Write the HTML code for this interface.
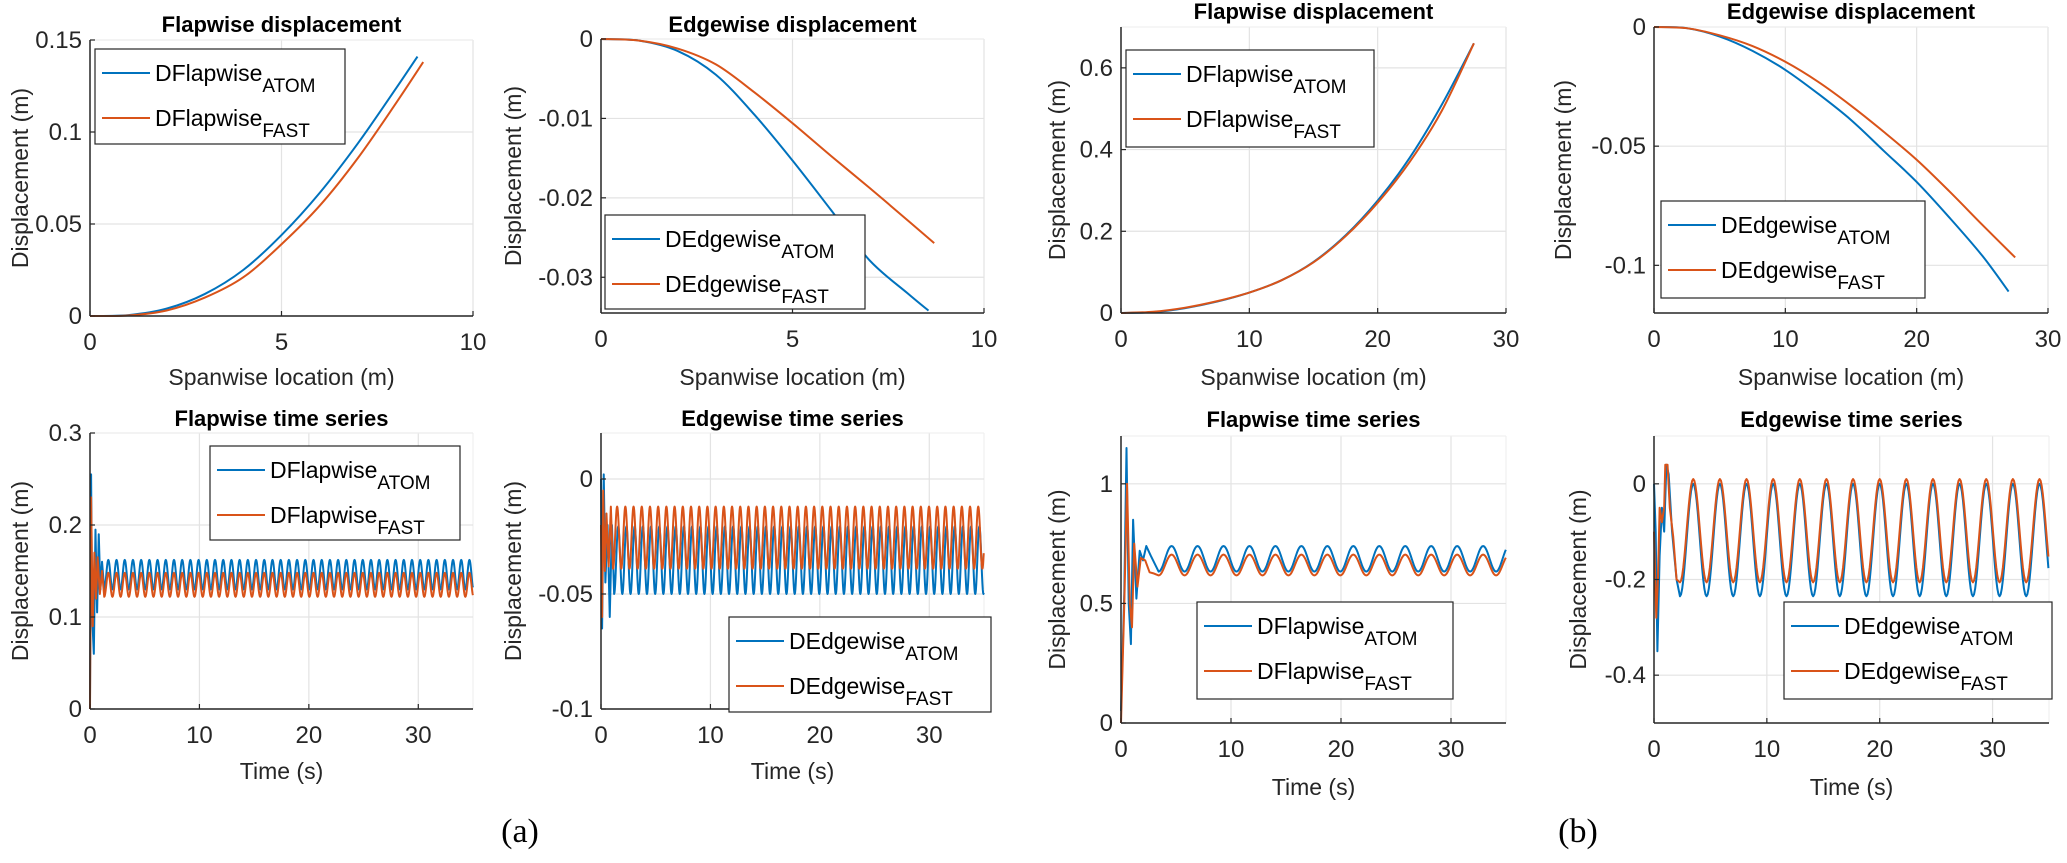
<!DOCTYPE html>
<html><head><meta charset="utf-8">
<style>
html,body{margin:0;padding:0;background:#fff;}
svg{display:block;font-family:"Liberation Sans",Arial,sans-serif;}
</style></head>
<body>
<svg id="fig" width="2067" height="863" viewBox="0 0 2067 863" xmlns="http://www.w3.org/2000/svg"></svg>
<script>
// ---------- data ----------
// Panel 1: flapwise displacement (a)
const p1xAtom = [0,1,2,3,4,5,6,7,8,8.55];
const p1yAtom = [0,0.0005,0.004,0.012,0.025,0.044,0.067,0.094,0.124,0.141];
const p1xFast = [0,1,2,3,4,5,6,7,8,8.7];
const p1yFast = [0,0.0003,0.003,0.010,0.021,0.039,0.060,0.086,0.116,0.138];
// Panel 2: edgewise displacement (a)
const p2xAtom = [0,1,2,3,4,5,6,7,8,8.55];
const p2yAtom = [0,-0.0002,-0.0015,-0.0045,-0.0095,-0.0153,-0.0215,-0.0278,-0.032,-0.0342];
const p2xFast = [0,1,2,3,4,5,6,7,8,8.7];
const p2yFast = [0,-0.0002,-0.0012,-0.0032,-0.0067,-0.0106,-0.0147,-0.0187,-0.0228,-0.0257];
// Panel 3: flapwise displacement (b)
const p3xAtom = [0,2.5,5,7.5,10,12.5,15,17.5,20,22.5,25,27.5];
const p3yAtom = [0,0.002,0.012,0.028,0.05,0.08,0.125,0.19,0.275,0.38,0.51,0.66];
const p3xFast = [0,2.5,5,7.5,10,12.5,15,17.5,20,22.5,25,27.5];
const p3yFast = [0,0.003,0.013,0.029,0.05,0.08,0.124,0.188,0.27,0.37,0.495,0.66];
// Panel 4: edgewise displacement (b)
const p4xAtom = [0,2.5,5,7.5,10,12.5,15,17.5,20,22.5,25,27];
const p4yAtom = [0,-0.0005,-0.004,-0.010,-0.018,-0.028,-0.039,-0.052,-0.065,-0.080,-0.096,-0.111];
const p4xFast = [0,2.5,5,7.5,10,12.5,15,17.5,20,22.5,25,27.5];
const p4yFast = [0,-0.0005,-0.0035,-0.008,-0.0146,-0.023,-0.033,-0.044,-0.0557,-0.069,-0.083,-0.0967];
// Time series: transient samples, then steady oscillation range [min,max], period (s)
const p5tAtom = [0,0.1,0.2,0.35,0.5,0.65,0.8,0.95,1.1,1.3];
const p5vAtom = [0.01,0.255,0.1,0.06,0.195,0.105,0.19,0.13,0.16,0.13];
const p5tFast = [0,0.1,0.25,0.4,0.55,0.7,0.9,1.1,1.3];
const p5vFast = [0.0,0.23,0.09,0.17,0.12,0.165,0.125,0.15,0.122];
const p5rangeAtom = [0.13,0.162];
const p5rangeFast = [0.122,0.148];
const p5period = [0.75];
const p6tAtom = [0,0.1,0.25,0.4,0.6,0.8,1.0,1.2];
const p6vAtom = [0,-0.065,0.002,-0.045,-0.02,-0.06,-0.02,-0.05];
const p6tFast = [0,0.1,0.2,0.35,0.5,0.7,0.9,1.1];
const p6vFast = [-0.02,-0.06,-0.005,-0.04,-0.015,-0.038,-0.012,-0.039];
const p6rangeAtom = [-0.05,-0.0206];
const p6rangeFast = [-0.039,-0.012];
const p6period = [0.75];
const p7tAtom = [0,0.3,0.5,0.7,0.9,1.1,1.4,1.7,2.0,2.3,2.7,3.42];
const p7vAtom = [0.05,0.55,1.15,0.5,0.33,0.85,0.52,0.72,0.68,0.74,0.70,0.633];
const p7tFast = [0,0.3,0.55,0.8,1.0,1.2,1.5,1.8,2.2,2.6,3.0,3.42];
const p7vFast = [0,0.5,1.0,0.5,0.4,0.75,0.57,0.69,0.68,0.63,0.625,0.617];
const p7rangeAtom = [0.633,0.74];
const p7rangeFast = [0.617,0.704];
const p7period = [2.36];
const p8tAtom = [0,0.15,0.3,0.5,0.7,0.9,1.1,1.3,1.6,2.0,2.3];
const p8vAtom = [0,-0.1,-0.35,-0.15,-0.05,-0.1,0.04,0.02,-0.1,-0.2,-0.235];
const p8tFast = [0,0.2,0.35,0.5,0.7,0.9,1.0,1.2,1.4,1.7,2.0,2.3];
const p8vFast = [-0.1,-0.28,-0.2,-0.05,-0.08,-0.05,0.04,0.04,-0.05,-0.11,-0.2,-0.206];
const p8rangeAtom = [-0.235,0.0];
const p8rangeFast = [-0.206,0.01];
const p8period = [2.36];
const tEnd = [35];
// tick labels
const ticksX10 = [0,5,10];
const ticksX30 = [0,10,20,30];
const ticksY1 = [0,0.05,0.1,0.15];
const ticksY2 = [0,-0.01,-0.02,-0.03];
const ticksY3 = [0,0.2,0.4,0.6];
const ticksY4 = [0,-0.05,-0.1];
const ticksY5 = [0,0.1,0.2,0.3];
const ticksY6 = [0,-0.05,-0.1];
const ticksY7 = [0,0.5,1];
const ticksY8 = [0,-0.2,-0.4];

const BLUE = '#0072bd', RED = '#d95319';
const svg = document.getElementById('fig');
const NS = 'http://www.w3.org/2000/svg';
function mk(tag, attrs, parent){
  const e = document.createElementNS(NS, tag);
  for (const k in attrs) e.setAttribute(k, attrs[k]);
  (parent||svg).appendChild(e);
  return e;
}
function steady(ts, vs, range, period){
  const t = ts.slice(), v = vs.slice();
  const t0 = ts[ts.length-1];
  const mid = (range[0]+range[1])/2, amp = (range[1]-range[0])/2;
  const step = period/24;
  for (let tt = t0+step; tt <= tEnd[0]+1e-9; tt += step){
    t.push(tt); v.push(mid - amp*Math.cos(2*Math.PI*(tt-t0)/period));
  }
  return [t, v];
}
function smoothPath(P){
  let d = 'M' + P[0][0].toFixed(2) + ' ' + P[0][1].toFixed(2);
  for (let i = 0; i < P.length-1; i++){
    const p0 = P[Math.max(0,i-1)], p1 = P[i], p2 = P[i+1], p3 = P[Math.min(P.length-1,i+2)];
    const c1x = p1[0] + (p2[0]-p0[0])/6, c1y = p1[1] + (p2[1]-p0[1])/6;
    const c2x = p2[0] - (p3[0]-p1[0])/6, c2y = p2[1] - (p3[1]-p1[1])/6;
    d += 'C' + c1x.toFixed(2)+' '+c1y.toFixed(2)+' '+c2x.toFixed(2)+' '+c2y.toFixed(2)+' '+p2[0].toFixed(2)+' '+p2[1].toFixed(2);
  }
  return d;
}

function panel(cfg){
  const g = mk('g', {});
  
  
  const X = v => cfg.L + (v - cfg.xmin)/(cfg.xmax - cfg.xmin)*(cfg.R - cfg.L);
  const Y = v => cfg.B - (v - cfg.ymin)/(cfg.ymax - cfg.ymin)*(cfg.B - cfg.T);
  cfg.xt.forEach(v => { if (v !== cfg.xmin) { const l = mk('line', {x1:X(v),x2:X(v),y1:cfg.T,y2:cfg.B,stroke:'#e3e3e3','stroke-width':1.2}, g);   }});
  if (cfg.xmax > cfg.xt[cfg.xt.length-1]) { mk('line', {x1:cfg.R,x2:cfg.R,y1:cfg.T,y2:cfg.B,stroke:'#eeeeee','stroke-width':1}, g); }
  cfg.yt.forEach(v => { const l = mk('line', {x1:cfg.L,x2:cfg.R,y1:Y(v),y2:Y(v),stroke:'#e3e3e3','stroke-width':1.2}, g);   });
  mk('line', {x1:cfg.L,x2:cfg.R,y1:cfg.T,y2:cfg.T,stroke:'#eeeeee','stroke-width':1}, g);
  cfg.series.forEach(s => {
    const P = s.x.map((xv,i) => [X(xv), Y(s.y[i])]);
    const d = cfg.smooth ? smoothPath(P) : P.map((p,i) => (i?'L':'M') + p[0].toFixed(2) + ' ' + p[1].toFixed(2)).join('');
    const p = mk('path', {d:d, fill:'none', stroke:s.color, 'stroke-width':2, 'stroke-linejoin':'round'}, g);
    
    
  });
  const ax = mk('line', {x1:cfg.L,x2:cfg.L,y1:cfg.T,y2:cfg.B,stroke:'#262626','stroke-width':1.5}, g);
  
  
  const bx = mk('line', {x1:cfg.L,x2:cfg.R,y1:cfg.B,y2:cfg.B,stroke:'#262626','stroke-width':1.5}, g);
  
  
  cfg.xt.forEach(v => {
    mk('line', {x1:X(v),x2:X(v),y1:cfg.B,y2:cfg.B-5,stroke:'#262626','stroke-width':1.2}, g);
    const t = mk('text', {x:X(v), y:cfg.B+34, 'font-size':24, 'text-anchor':'middle', fill:'#262626'}, g);
    t.textContent = String(v);
    
    
  });
  cfg.yt.forEach(v => {
    mk('line', {x1:cfg.L,x2:cfg.L+5,y1:Y(v),y2:Y(v),stroke:'#262626','stroke-width':1.2}, g);
    const t = mk('text', {x:cfg.L-8, y:Y(v)+8, 'font-size':24, 'text-anchor':'end', fill:'#262626'}, g);
    t.textContent = String(v);
    
    
  });
  const tt = mk('text', {x:(cfg.L+cfg.R)/2, y:cfg.titleY, 'font-size':22, 'font-weight':'bold', 'text-anchor':'middle', fill:'#000'}, g);
  tt.textContent = cfg.title;
  
  
  const xl = mk('text', {x:(cfg.L+cfg.R)/2, y:cfg.xlabY, 'font-size':23, 'text-anchor':'middle', fill:'#262626'}, g);
  xl.textContent = cfg.xlabel;
  
  
  const yl = mk('text', {x:0, y:0, 'font-size':23, 'text-anchor':'middle', fill:'#262626', transform:`translate(${cfg.ylabX},${(cfg.T+cfg.B)/2}) rotate(-90)`}, g);
  yl.textContent = 'Displacement (m)';
  
  
  const [lx, ly, lw, lh] = cfg.leg;
  const lg = mk('g', {}, g);
  
  
  mk('rect', {x:lx, y:ly, width:lw, height:lh, fill:'#fff', stroke:'#262626', 'stroke-width':1.2}, lg);
  cfg.series.forEach((s,i) => {
    const yy = ly + 24 + i*45;
    const ln = mk('line', {x1:lx+7, x2:lx+55, y1:yy, y2:yy, stroke:s.color, 'stroke-width':2}, lg);
    
    
    const t = mk('text', {x:lx+60, y:yy+8, 'font-size':23, fill:'#000'}, lg);
    
    
    t.appendChild(document.createTextNode(cfg.legBase));
    const sub = document.createElementNS(NS,'tspan');
    sub.setAttribute('dy', 11);
    sub.setAttribute('font-size', 19);
    sub.textContent = s.label;
    t.appendChild(sub);
  });
}

function ts(t, v, r, p){ return steady(t, v, r, p[0]); }
const s5a = ts(p5tAtom,p5vAtom,p5rangeAtom,p5period), s5f = ts(p5tFast,p5vFast,p5rangeFast,p5period);
const s6a = ts(p6tAtom,p6vAtom,p6rangeAtom,p6period), s6f = ts(p6tFast,p6vFast,p6rangeFast,p6period);
const s7a = ts(p7tAtom,p7vAtom,p7rangeAtom,p7period), s7f = ts(p7tFast,p7vFast,p7rangeFast,p7period);
const s8a = ts(p8tAtom,p8vAtom,p8rangeAtom,p8period), s8f = ts(p8tFast,p8vFast,p8rangeFast,p8period);

const SP = 'Spanwise location (m)', TM = 'Time (s)';
panel({name:'panel-a-flapwise-displacement', smooth:true, L:90,R:473,T:40,B:316, xmin:0,xmax:10,ymin:0,ymax:0.15, xt:ticksX10, yt:ticksY1,
  title:'Flapwise displacement', titleY:32, xlabel:SP, xlabY:385, ylabX:28, leg:[95,49,250,95], legBase:'DFlapwise',
  series:[{x:p1xAtom,y:p1yAtom,color:BLUE,label:'ATOM',name:'atom-line'},{x:p1xFast,y:p1yFast,color:RED,label:'FAST',name:'fast-line'}]});
panel({name:'panel-a-edgewise-displacement', smooth:true, L:601,R:984,T:39,B:313, xmin:0,xmax:10,ymin:-0.0345,ymax:0, xt:ticksX10, yt:ticksY2,
  title:'Edgewise displacement', titleY:32, xlabel:SP, xlabY:385, ylabX:521, leg:[605,215,260,94], legBase:'DEdgewise',
  series:[{x:p2xAtom,y:p2yAtom,color:BLUE,label:'ATOM',name:'atom-line'},{x:p2xFast,y:p2yFast,color:RED,label:'FAST',name:'fast-line'}]});
panel({name:'panel-b-flapwise-displacement', smooth:true, L:1121,R:1506,T:27,B:313, xmin:0,xmax:30,ymin:0,ymax:0.7, xt:ticksX30, yt:ticksY3,
  title:'Flapwise displacement', titleY:19, xlabel:SP, xlabY:385, ylabX:1065, leg:[1126,50,248,97], legBase:'DFlapwise',
  series:[{x:p3xAtom,y:p3yAtom,color:BLUE,label:'ATOM',name:'atom-line'},{x:p3xFast,y:p3yFast,color:RED,label:'FAST',name:'fast-line'}]});
panel({name:'panel-b-edgewise-displacement', smooth:true, L:1654,R:2048,T:27,B:313, xmin:0,xmax:30,ymin:-0.12,ymax:0, xt:ticksX30, yt:ticksY4,
  title:'Edgewise displacement', titleY:19, xlabel:SP, xlabY:385, ylabX:1571, leg:[1661,201,264,97], legBase:'DEdgewise',
  series:[{x:p4xAtom,y:p4yAtom,color:BLUE,label:'ATOM',name:'atom-line'},{x:p4xFast,y:p4yFast,color:RED,label:'FAST',name:'fast-line'}]});
panel({name:'panel-a-flapwise-time-series', L:90,R:473,T:433,B:709, xmin:0,xmax:35,ymin:0,ymax:0.3, xt:ticksX30, yt:ticksY5,
  title:'Flapwise time series', titleY:426, xlabel:TM, xlabY:779, ylabX:28, leg:[210,446,250,94], legBase:'DFlapwise',
  series:[{x:s5a[0],y:s5a[1],color:BLUE,label:'ATOM',name:'atom-line'},{x:s5f[0],y:s5f[1],color:RED,label:'FAST',name:'fast-line'}]});
panel({name:'panel-a-edgewise-time-series', L:601,R:984,T:433,B:709, xmin:0,xmax:35,ymin:-0.1,ymax:0.02, xt:ticksX30, yt:ticksY6,
  title:'Edgewise time series', titleY:426, xlabel:TM, xlabY:779, ylabX:521, leg:[729,617,262,95], legBase:'DEdgewise',
  series:[{x:s6a[0],y:s6a[1],color:BLUE,label:'ATOM',name:'atom-line'},{x:s6f[0],y:s6f[1],color:RED,label:'FAST',name:'fast-line'}]});
panel({name:'panel-b-flapwise-time-series', L:1121,R:1506,T:436,B:723, xmin:0,xmax:35,ymin:0,ymax:1.2, xt:ticksX30, yt:ticksY7,
  title:'Flapwise time series', titleY:427, xlabel:TM, xlabY:795, ylabX:1065, leg:[1197,602,256,97], legBase:'DFlapwise',
  series:[{x:s7a[0],y:s7a[1],color:BLUE,label:'ATOM',name:'atom-line'},{x:s7f[0],y:s7f[1],color:RED,label:'FAST',name:'fast-line'}]});
panel({name:'panel-b-edgewise-time-series', L:1654,R:2049,T:436,B:723, xmin:0,xmax:35,ymin:-0.5,ymax:0.1, xt:ticksX30, yt:ticksY8,
  title:'Edgewise time series', titleY:427, xlabel:TM, xlabY:795, ylabX:1586, leg:[1784,602,268,97], legBase:'DEdgewise',
  series:[{x:s8a[0],y:s8a[1],color:BLUE,label:'ATOM',name:'atom-line'},{x:s8f[0],y:s8f[1],color:RED,label:'FAST',name:'fast-line'}]});

const la = mk('text', {x:520, y:842, 'font-size':34, 'text-anchor':'middle', 'font-family':'"Liberation Serif",serif', fill:'#000'});
la.textContent = '(a)';


const lb = mk('text', {x:1578, y:842, 'font-size':34, 'text-anchor':'middle', 'font-family':'"Liberation Serif",serif', fill:'#000'});
lb.textContent = '(b)';


</script>
</body></html>
